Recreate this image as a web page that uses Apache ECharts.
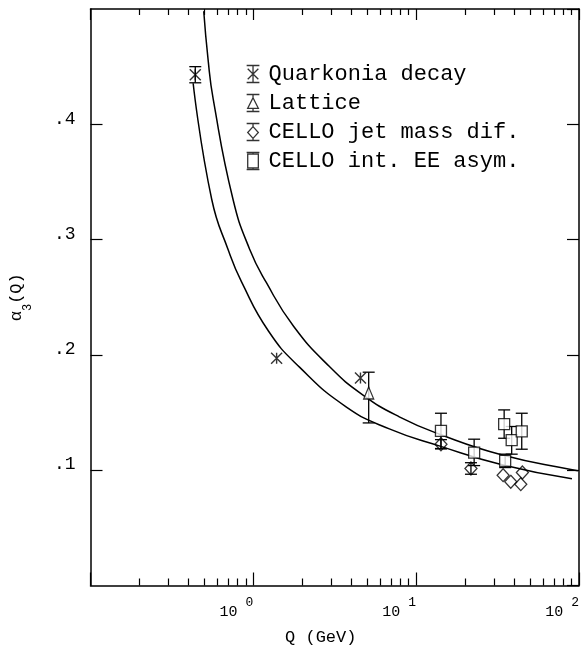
<!DOCTYPE html>
<html><head><meta charset="utf-8">
<script src="https://cdn.jsdelivr.net/npm/echarts@6/dist/echarts.min.js"></script>
<style>html,body{margin:0;padding:0;background:#fff}#c{width:582px;height:648px}</style>
</head><body><div id="c"></div>
<script>
// ---- data ----
const quarkoniaQ = [0.44, 1.39, 4.55];
const quarkoniaAlpha = [0.443, 0.197, 0.180];
const quarkoniaLow = [0.436, 0.197, 0.180];
const quarkoniaHigh = [0.450, 0.197, 0.180];

const latticeQ = [5.11];
const latticeAlpha = [0.167];
const latticeLow = [0.141];
const latticeHigh = [0.185];

const jetMassQ = [14.2, 21.7, 34.2, 38.1, 44.9, 43.9];
const jetMassAlpha = [0.1225, 0.1015, 0.0957, 0.0899, 0.0980, 0.0879];
const jetMassLow = [0.1185, 0.0965, 0.0957, 0.0899, 0.0980, 0.0879];
const jetMassHigh = [0.1265, 0.1065, 0.0957, 0.0899, 0.0980, 0.0879];

const eeAsymQ = [14.2, 22.7, 34.7, 38.6, 44.5, 35.2];
const eeAsymAlpha = [0.1341, 0.1153, 0.1399, 0.1260, 0.1336, 0.1081];
const eeAsymLow = [0.1188, 0.1040, 0.1277, 0.1139, 0.1182, 0.1023];
const eeAsymHigh = [0.1494, 0.1269, 0.1523, 0.1379, 0.1494, 0.1139];

const curveLowQ = [0.427, 0.555, 0.706, 0.848, 1.241, 1.921, 3.730, 6.842, 13.85, 33.69, 90.48];
const curveLowAlpha = [0.4356, 0.3350, 0.2899, 0.2631, 0.2205, 0.1894, 0.1548, 0.1358, 0.1211, 0.1047, 0.0925];

const curveHighQ = [0.496, 0.527, 0.567, 0.750, 0.949, 1.201, 1.766, 2.934, 4.694, 7.877, 14.19, 33.83, 90.85, 98.5];
const curveHighAlpha = [0.4981, 0.4565, 0.4218, 0.3350, 0.2917, 0.2628, 0.2249, 0.1899, 0.1654, 0.1463, 0.1308, 0.1132, 0.1004, 0.0996];

const seriesNames = ['Quarkonia decay', 'Lattice', 'CELLO jet mass dif.', 'CELLO int. EE asym.'];

const xMajorTicks = [0.1, 1, 10, 100];
const xLabelTicks = [1, 10, 100];
const xTickExponents = ['0', '1', '2'];
const xMinorTicks = [0.2, 0.3, 0.4, 0.5, 0.6, 0.7, 0.8, 0.9, 2, 3, 4, 5, 6, 7, 8, 9, 20, 30, 40, 50, 60, 70, 80, 90];
const yTickValues = [0.1, 0.2, 0.3, 0.4];
const yTickLabels = ['.1', '.2', '.3', '.4'];

// ---- helpers ----
const FONT = 'Liberation Mono';
const pairs = (xs, ys) => xs.map((x, i) => [x, ys[i]]);
const errs = (xs, lo, hi) => xs.map((x, i) => [x, lo[i], hi[i]]).filter(d => d[2] > d[1]);

function renderErr(params, api) {
  const q = api.value(0), lo = api.value(1), hi = api.value(2);
  const a = api.coord([q, lo]), b = api.coord([q, hi]);
  const w = 6;
  const st = { stroke: '#000', lineWidth: 1.3, fill: null };
  return { type: 'group', children: [
    { type: 'line', shape: { x1: a[0], y1: a[1], x2: b[0], y2: b[1] }, style: st },
    { type: 'line', shape: { x1: a[0] - w, y1: a[1], x2: a[0] + w, y2: a[1] }, style: st },
    { type: 'line', shape: { x1: b[0] - w, y1: b[1], x2: b[0] + w, y2: b[1] }, style: st }
  ]};
}

const allErr = [].concat(
  errs(quarkoniaQ, quarkoniaLow, quarkoniaHigh),
  errs(latticeQ, latticeLow, latticeHigh),
  errs(jetMassQ, jetMassLow, jetMassHigh),
  errs(eeAsymQ, eeAsymLow, eeAsymHigh)
);

const ASTER = 'path://M0,0L10,10M10,0L0,10M5,0L5,10';
const icons = [
  'path://M0,0L12,0M6,0L6,16M0,16L12,16M1,3L11,13M11,3L1,13',
  'path://M0,0L12,0M6,0L6,3M6,3L11,13L1,13Z M6,13L6,16M0,16L12,16',
  'path://M0,0L12,0M6,0L6,3M6,3L11,8.5L6,14L1,8.5Z M6,14L6,16M0,16L12,16',
  'path://M0,0L12,0M6,0L6,1.5M1,1.5L11,1.5L11,14.5L1,14.5Z M6,14.5L6,16M0,16L12,16'
];

const lineStyleAxis = { color: '#000', width: 1.5 };
function xAxisBase(pos, showLine, ticks, len) {
  return {
    type: 'log', logBase: 10, min: 0.1, max: 100, position: pos, gridIndex: 0,
    axisLine: { show: showLine, onZero: false, lineStyle: lineStyleAxis },
    axisTick: { show: true, inside: true, length: len, customValues: ticks, lineStyle: { color: '#000', width: 1.2 } },
    axisLabel: { show: false },
    splitLine: { show: false }, minorTick: { show: false }, minorSplitLine: { show: false }
  };
}

const xBottom = xAxisBase('bottom', true, xMajorTicks, 13);
xBottom.axisLabel = {
  show: true, customValues: xLabelTicks, align: 'right', margin: 11,
  formatter: function (v) {
    let k = -1;
    xLabelTicks.forEach((t, i) => { if (Math.abs(Math.log10(v) - Math.log10(t)) < 1e-6) k = i; });
    return k < 0 ? '' : '{b|10}{s|' + xTickExponents[k] + '}';
  },
  rich: {
    b: { fontFamily: FONT, fontSize: 15, lineHeight: 23, color: '#000', verticalAlign: 'bottom' },
    s: { fontFamily: FONT, fontSize: 13, lineHeight: 13, color: '#000', verticalAlign: 'top', padding: [0, 0, 0, 8] }
  }
};
xBottom.name = 'Q (GeV)';
xBottom.nameLocation = 'middle';
xBottom.nameGap = 43;
xBottom.nameMoveOverlap = false;
xBottom.nameTextStyle = { fontFamily: FONT, fontSize: 17, lineHeight: 17, color: '#000', padding: [0, 28, 0, 0] };

const xAxes = [
  xBottom,
  xAxisBase('bottom', false, xMinorTicks, 7),
  xAxisBase('top', true, xMajorTicks, 11),
  xAxisBase('top', false, xMinorTicks, 6)
];

function yAxisBase(pos) {
  return {
    type: 'value', min: 0, max: 0.5, interval: 0.1, position: pos,
    axisLine: { show: true, onZero: false, lineStyle: lineStyleAxis },
    axisTick: { show: true, inside: true, length: 12, lineStyle: { color: '#000', width: 1.2 } },
    axisLabel: { show: false },
    splitLine: { show: false }
  };
}
const yLeft = yAxisBase('left');
yLeft.axisLabel = {
  show: true, showMinLabel: false, showMaxLabel: false, margin: 15,
  fontFamily: FONT, fontSize: 18, color: '#000', verticalAlign: 'bottom', lineHeight: 11,
  formatter: function (v) {
    let k = -1;
    yTickValues.forEach((t, i) => { if (Math.abs(v - t) < 1e-9) k = i; });
    return k < 0 ? '' : yTickLabels[k];
  }
};
yLeft.name = '{a|α}{s|3}{a|(Q)}';
yLeft.nameLocation = 'middle';
yLeft.nameGap = 57;
yLeft.nameMoveOverlap = false;
yLeft.nameTextStyle = {
  rich: {
    a: { fontFamily: FONT, fontSize: 17, lineHeight: 26, color: '#000', verticalAlign: 'top' },
    s: { fontFamily: FONT, fontSize: 12, lineHeight: 12, color: '#000', verticalAlign: 'bottom' }
  }
};
const yAxes = [yLeft, yAxisBase('right')];

const chart = echarts.init(document.getElementById('c'), null, { renderer: 'canvas' });
chart.setOption({
  backgroundColor: '#fff',
  animation: false,
  grid: { left: 90.5, right: 3, top: 9, bottom: 62.5, containLabel: false, outerBoundsMode: 'none' },
  xAxis: xAxes,
  yAxis: yAxes,
  legend: {
    show: true, orient: 'vertical', left: 241, top: 58,
    itemWidth: 21, itemHeight: 17, itemGap: 7, selectedMode: false,
    data: seriesNames.map((n, i) => ({ name: n, icon: icons[i] })),
    itemStyle: { color: '#fff', borderColor: '#000', borderWidth: 1.3 },
    textStyle: { fontFamily: FONT, fontSize: 22, lineHeight: 17, color: '#000' }
  },
  series: [
    { type: 'line', name: 'curve-low', data: pairs(curveLowQ, curveLowAlpha), showSymbol: false, smooth: 0.5,
      lineStyle: { color: '#000', width: 1.5 }, z: 1, silent: true },
    { type: 'line', name: 'curve-high', data: pairs(curveHighQ, curveHighAlpha), showSymbol: false, smooth: 0.5,
      lineStyle: { color: '#000', width: 1.5 }, z: 1, silent: true },
    { type: 'custom', name: 'errors', data: allErr, renderItem: renderErr, encode: { x: 0, y: [1, 2] }, z: 2, silent: true },
    { type: 'scatter', name: seriesNames[0], data: pairs(quarkoniaQ, quarkoniaAlpha), symbol: ASTER, symbolSize: 11,
      itemStyle: { color: 'rgba(0,0,0,0)', borderColor: '#000', borderWidth: 1.4 }, z: 4 },
    { type: 'scatter', name: seriesNames[1], data: pairs(latticeQ, latticeAlpha), symbol: 'triangle', symbolSize: [10, 12],
      itemStyle: { color: '#fff', borderColor: '#000', borderWidth: 1.3 }, z: 3 },
    { type: 'scatter', name: seriesNames[2], data: pairs(jetMassQ, jetMassAlpha), symbol: 'diamond', symbolSize: [12, 13],
      itemStyle: { color: 'rgba(0,0,0,0)', borderColor: '#000', borderWidth: 1.3 }, z: 3 },
    { type: 'scatter', name: seriesNames[3], data: pairs(eeAsymQ, eeAsymAlpha), symbol: 'rect', symbolSize: 11,
      itemStyle: { color: '#fff', borderColor: '#000', borderWidth: 1.3 }, z: 3 }
  ]
});
</script>
</body></html>
